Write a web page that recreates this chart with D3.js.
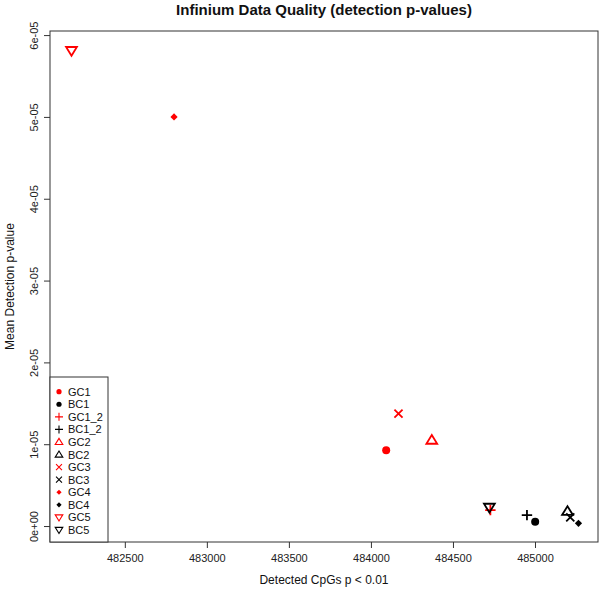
<!DOCTYPE html>
<html><head><meta charset="utf-8">
<script src="https://cdn.jsdelivr.net/npm/d3@7"></script>
<style>
html,body{margin:0;padding:0;background:#fff;}
svg{display:block;font-family:"Liberation Sans",Arial,sans-serif;}
</style></head>
<body>
<svg id="chart" width="600" height="592"></svg>
<script>
// ---- data ----
const samples = ["GC1","BC1","GC1_2","BC1_2","GC2","BC2","GC3","BC3","GC4","BC4","GC5","BC5"];
const detectedCpGs = [484093, 485001, 484728, 484951, 484371, 485198, 484168, 485215, 482800, 485265, 482175, 484722];
const meanDetectionP = [0.927e-5, 0.052e-5, 0.195e-5, 0.134e-5, 1.05e-5, 0.18e-5, 1.374e-5, 0.106e-5, 5.0e-5, 0.033e-5, 5.81e-5, 0.228e-5];
const sampleColors = ["red","black","red","black","red","black","red","black","red","black","red","black"];
const sampleShapes = ["circle","circle","plus","plus","triangle","triangle","cross","cross","diamond","diamond","triangleDown","triangleDown"];
const xTicks = [482500, 483000, 483500, 484000, 484500, 485000];
const yTicks = [0, 1e-5, 2e-5, 3e-5, 4e-5, 5e-5, 6e-5];
const yTickLabels = ["0e+00","1e-05","2e-05","3e-05","4e-05","5e-05","6e-05"];
const xLimits = [482044, 485384];
const yLimits = [-0.195e-5, 6.05e-5];

// ---- layout ----
const svg = d3.select("#chart");
const plot = {left: 50, right: 598, top: 31, bottom: 542};
const x = d3.scaleLinear().domain(xLimits).range([plot.left, plot.right]);
const y = d3.scaleLinear().domain(yLimits).range([plot.bottom, plot.top]);

// custom symbol types (R pch-like); size = radius
const symbolTypes = {
  circle: {draw(c, r){ c.moveTo(r,0); c.arc(0,0,r,0,2*Math.PI); }, filled:true},
  diamond: {draw(c, r){ const d=r*1.0; c.moveTo(0,-d); c.lineTo(d,0); c.lineTo(0,d); c.lineTo(-d,0); c.closePath(); }, filled:true},
  plus: {draw(c, r){ c.moveTo(-r,0); c.lineTo(r,0); c.moveTo(0,-r); c.lineTo(0,r); }, filled:false},
  cross: {draw(c, r){ const d=r*0.78; c.moveTo(-d,-d); c.lineTo(d,d); c.moveTo(-d,d); c.lineTo(d,-d); }, filled:false},
  triangle: {draw(c, r){ const h=r*0.9; c.moveTo(0,-h*1.05); c.lineTo(r,h*0.75); c.lineTo(-r,h*0.75); c.closePath(); }, filled:false},
  triangleDown: {draw(c, r){ const h=r*0.9; c.moveTo(0,h*1.05); c.lineTo(r,-h*0.75); c.lineTo(-r,-h*0.75); c.closePath(); }, filled:false}
};
const mainRadius = {circle:4, diamond:3.6, plus:5.2, cross:5.2, triangle:5.4, triangleDown:5.4};
const legendRadius = {circle:2.6, diamond:2.6, plus:4, cross:3.8, triangle:3.8, triangleDown:3.8};

function symbolPath(shape, r){
  return d3.symbol().type(symbolTypes[shape]).size(r)();
}

// title
svg.append("text").attr("x",(plot.left+plot.right)/2).attr("y",15)
  .attr("text-anchor","middle").attr("font-size",15).attr("font-weight","bold")
  .attr("fill","#111").text("Infinium Data Quality (detection p-values)");

// axes
const xAxis = d3.axisBottom(x).tickValues(xTicks).tickFormat(d3.format("d")).tickSizeOuter(0).tickSize(6).tickPadding(4);
const gx = svg.append("g").attr("transform",`translate(0,${plot.bottom})`).call(xAxis);
gx.select(".domain").remove();
gx.selectAll("text").attr("font-size",11).attr("font-family","Liberation Sans, Arial, sans-serif").attr("fill","#222").attr("dy","0.95em");
gx.selectAll("line").attr("stroke","#333");

const yAxis = d3.axisLeft(y).tickValues(yTicks).tickFormat((d,i)=>yTickLabels[i]).tickSizeOuter(0).tickSize(6);
const gy = svg.append("g").attr("transform",`translate(${plot.left},0)`).call(yAxis);
gy.select(".domain").remove();
gy.selectAll("line").attr("stroke","#333");
gy.selectAll("text")
  .attr("font-size",11).attr("font-family","Liberation Sans, Arial, sans-serif").attr("fill","#222")
  .attr("x",null).attr("dy",null)
  .attr("text-anchor","middle")
  .attr("transform","translate(-12,0) rotate(-90)");

// axis titles
svg.append("text").attr("x",(plot.left+plot.right)/2).attr("y",584)
  .attr("text-anchor","middle").attr("font-size",12).attr("fill","#111").text("Detected CpGs p < 0.01");
svg.append("text").attr("transform",`translate(14,${(plot.top+plot.bottom)/2}) rotate(-90)`)
  .attr("text-anchor","middle").attr("font-size",12).attr("fill","#111").text("Mean Detection p-value");

// plot box
svg.append("rect").attr("x",plot.left).attr("y",plot.top)
  .attr("width",plot.right-plot.left).attr("height",plot.bottom-plot.top)
  .attr("fill","none").attr("stroke","#333").attr("stroke-width",1);

// points
const pts = samples.map((s,i)=>({s, x:detectedCpGs[i], y:meanDetectionP[i], c:sampleColors[i], shape:sampleShapes[i]}));
svg.append("g").selectAll("path").data(pts).join("path")
  .attr("transform",d=>`translate(${x(d.x)},${y(d.y)})`)
  .attr("d",d=>symbolPath(d.shape, mainRadius[d.shape]))
  .attr("fill",d=>symbolTypes[d.shape].filled ? d.c : "none")
  .attr("stroke",d=>symbolTypes[d.shape].filled ? "none" : d.c)
  .attr("stroke-width",1.8);

// legend
const leg = {left: plot.left, right: 108, top: 377, bottom: plot.bottom};
svg.append("rect").attr("x",leg.left).attr("y",leg.top)
  .attr("width",leg.right-leg.left).attr("height",leg.bottom-leg.top)
  .attr("fill","white").attr("stroke","#333").attr("stroke-width",1);
const legStep = 12.57, legY0 = 391.7;
const lg = svg.append("g").selectAll("g").data(pts).join("g")
  .attr("transform",(d,i)=>`translate(0,${legY0+i*legStep})`);
lg.append("path").attr("transform","translate(59,0)")
  .attr("d",d=>symbolPath(d.shape, legendRadius[d.shape]))
  .attr("fill",d=>symbolTypes[d.shape].filled ? d.c : "none")
  .attr("stroke",d=>symbolTypes[d.shape].filled ? "none" : d.c)
  .attr("stroke-width",1.1);
lg.append("text").attr("x",68).attr("y",4).attr("font-size",11).attr("fill","#111").text(d=>d.s);
</script>
</body></html>
